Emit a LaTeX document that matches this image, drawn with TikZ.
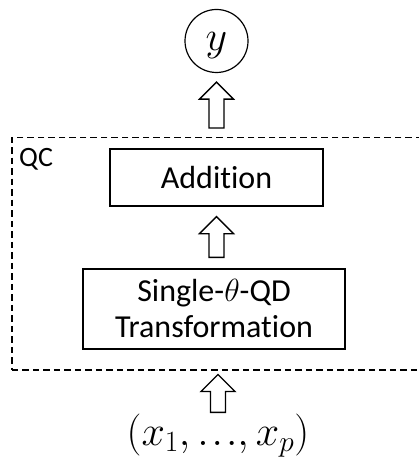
\RequirePackage{fix-cm}
\documentclass[tikz,border=0pt]{standalone}
\usepackage{fontspec}
\setmainfont{Carlito}[Ligatures=NoCommon]
\usetikzlibrary{calc}
\newcommand{\blockarrow}[2]{%
  \draw[blockarr] let \p1=(#1), \p2=(#2) in
    (\x1-7.5pt,\y1) -- (\x1-7.5pt,\y2-17pt) -- (\x1-17pt,\y2-17pt) -- (\x2,\y2)
    -- (\x1+17pt,\y2-17pt) -- (\x1+7.5pt,\y2-17pt) -- (\x1+7.5pt,\y1) -- cycle;}
\begin{document}
\begin{tikzpicture}[x=1pt,y=-1pt,
  box/.style={draw, line width=1.4pt, inner sep=0pt, font=\fontsize{32}{38}\selectfont, align=center},
  circ/.style={draw, circle, line width=1.2pt, minimum size=63pt, inner sep=0pt},
  qcbox/.style={draw, dashed, dash pattern=on 6.5pt off 4pt, line width=1.5pt, inner sep=0pt},
  blockarr/.style={draw, line width=1.4pt, fill=white, line join=miter},
  mathtxt/.style={font=\fontsize{42}{50}\selectfont, inner sep=0pt}]
\useasboundingbox (0,0) rectangle (419,457);
\clip (0,0) rectangle (419,457);
\fill[white] (0,0) rectangle (419,457);
\node[circ] (y) at (216.5,41) {\fontsize{42}{50}\selectfont\raisebox{-10pt}[0pt][0pt]{$y$}};
\node[qcbox, minimum width=420pt, minimum height=232pt, anchor=north west] (qc) at (11,137) {};
\node[anchor=base west, inner sep=0pt, font=\fontsize{28}{34}\selectfont] (qclab) at (19,166) {QC};
\node[box, minimum width=213pt, minimum height=57pt] (add) at (216.5,177.5) {Addition};
\node[box, minimum width=262pt, minimum height=80pt] (single) at (214,309) {Single-$\theta$-QD\\[-2pt]Transformation};
\node[mathtxt, anchor=base] (xs) at (218,445) {$(x_1,\mathord{.\kern3pt.\kern3pt.},x_p)$};
\blockarrow{$(y |- qc.north)+(0,-9)$}{$(y.south)+(0,9)$}
\blockarrow{$(add |- single.north)+(0,-11)$}{$(add.south)+(0,10)$}
\blockarrow{$(xs.north)+(0,-1)$}{$(xs |- qc.south)+(0,4)$}
\end{tikzpicture}
\end{document}
